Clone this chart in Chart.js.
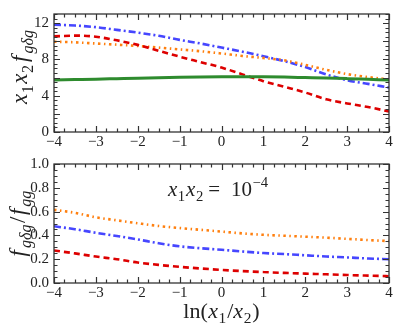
<!DOCTYPE html>
<html><head><meta charset="utf-8">
<script src="https://cdn.jsdelivr.net/npm/chart.js@4"></script>
<style>
html,body{margin:0;padding:0;background:#fff;overflow:hidden;}
#c1{position:absolute;left:0;top:0;}
#c2{position:absolute;left:0;top:150px;}
</style></head><body>
<canvas id="c1" width="399" height="150"></canvas>
<canvas id="c2" width="399" height="179"></canvas>
<script>
// ---- data ----
const xVals = [-4,-3.5,-3,-2.5,-2,-1.5,-1,-0.5,0,0.5,1,1.5,2,2.5,3,3.5,4];
const topBlue   = [11.83,11.73,11.55,11.25,10.95,10.6,10.15,9.75,9.3,8.85,8.35,7.8,7.15,6.35,5.7,5.3,4.9];
const topOrange = [9.95,9.88,9.75,9.62,9.48,9.3,9.1,8.9,8.65,8.38,8.15,7.9,7.4,6.85,6.38,6.05,5.78];
const topRed    = [10.53,10.62,10.5,10.1,9.6,8.95,8.3,7.7,7.1,6.35,5.6,4.98,4.35,3.6,3.15,2.75,2.26];
const topGreen  = [5.74,5.78,5.82,5.87,5.92,5.98,6.03,6.06,6.08,6.09,6.08,6.05,6.0,5.95,5.88,5.8,5.72];
const botOrange = [0.615,0.59,0.552,0.527,0.502,0.479,0.462,0.447,0.432,0.417,0.405,0.397,0.389,0.381,0.371,0.361,0.352];
const botBlue   = [0.477,0.452,0.422,0.395,0.366,0.334,0.308,0.292,0.279,0.265,0.252,0.243,0.233,0.223,0.215,0.206,0.2];
const botRed    = [0.273,0.249,0.222,0.2,0.172,0.152,0.136,0.122,0.11,0.1,0.092,0.085,0.079,0.073,0.067,0.062,0.057];
const xTicks = [-4,-3,-2,-1,0,1,2,3,4];
const topYTicks = [0,2,4,6,8,10,12];
const botYTicks = [0,0.2,0.4,0.6,0.8,1.0];

const FAM = '"Liberation Serif", "Times New Roman", serif';
const AXC = '#333333';
const TXT = '#222222';

const pts = arr => arr.map((v,i)=>({x:xVals[i], y:v}));

function layoutMath(ctx, segs, size){
  let w=0; const items=[];
  for(const s of segs){
    const fs = (s.sub||s.sup) ? size*0.7 : size;
    const font = (s.it?'italic ':'') + fs + 'px ' + FAM;
    ctx.font = font;
    const tw = ctx.measureText(s.t).width;
    const dy = s.sub ? size*0.24 : (s.sup ? -size*0.42 : 0);
    w += (s.pre||0);
    items.push({t:s.t, font, x:w, dy});
    w += tw + (s.post||0);
  }
  return {items, w};
}
function drawMath(ctx, segs, size, x, y, align, rot){
  ctx.save();
  ctx.translate(x,y);
  if(rot) ctx.rotate(rot);
  const {items,w} = layoutMath(ctx, segs, size);
  const x0 = align==='center' ? -w/2 : (align==='right' ? -w : 0);
  ctx.fillStyle = TXT; ctx.textBaseline='alphabetic'; ctx.textAlign='left';
  for(const it of items){ ctx.font = it.font; ctx.fillText(it.t, x0+it.x, it.dy); }
  ctx.restore();
}

function framePlugin(yMinorStep, yMinorCount, yMajorEvery){
  return {
    id:'frame',
    afterDatasetsDraw(chart){
      const {ctx, chartArea:a, scales:{x,y}} = chart;
      ctx.save();
      ctx.strokeStyle = AXC; ctx.lineWidth = 1.2;
      ctx.beginPath();
      for(let i=0;i<=32;i++){
        const v = -4 + i/4;
        const px = Math.round(x.getPixelForValue(v))+0.5;
        const L = (i%4===0) ? 6 : 3.5;
        ctx.moveTo(px, a.bottom); ctx.lineTo(px, a.bottom-L);
        ctx.moveTo(px, a.top); ctx.lineTo(px, a.top+L);
      }
      for(let i=0;i<=yMinorCount;i++){
        const v = i*yMinorStep;
        const py = Math.round(y.getPixelForValue(v))+0.5;
        const L = (i%yMajorEvery===0) ? 6 : 3.5;
        ctx.moveTo(a.left, py); ctx.lineTo(a.left+L, py);
        ctx.moveTo(a.right, py); ctx.lineTo(a.right-L, py);
      }
      ctx.stroke();
      ctx.lineWidth = 1.3;
      ctx.strokeRect(a.left, a.top, a.right-a.left, a.bottom-a.top);
      ctx.restore();
    }
  };
}

const fmtX = v => (v<0 ? '\u2212'+Math.abs(v) : String(v));

function xScale(pad){
  return {
    type:'linear', min:-4, max:4,
    grid:{display:false, drawTicks:false}, border:{display:false},
    afterBuildTicks: s => { s.ticks = xTicks.map(v=>({value:v})); },
    ticks:{padding:pad, autoSkip:false, maxRotation:0, color:TXT, font:{family:FAM, size:15}, callback:v=>fmtX(v)}
  };
}

function dsBlue(d){ return {data:pts(d), borderColor:'#4646ff', borderWidth:2.6, borderDash:[7,3,2,3]}; }
function dsRed(d){ return {data:pts(d), borderColor:'#dd0000', borderWidth:2.6, borderDash:[6,4]}; }
function dsOrange(d){ return {data:pts(d), borderColor:'#ff7f0e', borderWidth:2.6, borderDash:[2.5,3.5,1.5,3.5]}; }
function dsGreen(d){ return {data:pts(d), borderColor:'#2e8b2e', borderWidth:3}; }

const common = {
  responsive:false, animation:false, devicePixelRatio:1,
  plugins:{legend:{display:false}, tooltip:{enabled:false}},
  elements:{point:{radius:0}, line:{tension:0.4, cubicInterpolationMode:'monotone', fill:false}}
};

// ---- top chart ----
const topLabel = {
  id:'topLabel',
  afterDraw(chart){
    const {ctx, chartArea:a} = chart;
    const segs = [
      {t:'x',it:true,post:0.5},{t:'1',sub:true,post:1.5},
      {t:'x',it:true,post:0.5},{t:'2',sub:true,post:3},
      {t:'f',it:true,post:2},{t:'g\u03B4g',it:true,sub:true}
    ];
    drawMath(ctx, segs, 23, 27, 67, 'center', -Math.PI/2);
  }
};
const xTop = xScale(1);
xTop.afterFit = s => { s.height = 18; };
new Chart(document.getElementById('c1'), {
  type:'line',
  data:{datasets:[dsGreen(topGreen), dsRed(topRed), dsOrange(topOrange), dsBlue(topBlue)]},
  options:Object.assign({}, common, {
    layout:{padding:{left:0,right:10,top:5,bottom:0}},
    scales:{
      x: xTop,
      y:{
        min:0, max:13,
        grid:{display:false, drawTicks:false}, border:{display:false},
        afterBuildTicks: s => { s.ticks = topYTicks.map(v=>({value:v})); },
        ticks:{padding:5, color:TXT, font:{family:FAM, size:15}, callback:v=>String(v)},
        afterFit: s => { s.width = 54; }
      }
    }
  }),
  plugins:[framePlugin(0.5, 26, 4), topLabel]
});

// ---- bottom chart ----
const botLabel = {
  id:'botLabel',
  afterDraw(chart){
    const {ctx, chartArea:a, scales:{x,y}} = chart;
    const ySegs = [
      {t:'f',it:true,post:2},{t:'g\u03B4g',it:true,sub:true,post:1.5},
      {t:'/',post:1.5},
      {t:'f',it:true,post:2},{t:'gg',it:true,sub:true}
    ];
    drawMath(ctx, ySegs, 23, 25, (a.top+a.bottom)/2, 'center', -Math.PI/2);
    const xSegs = [
      {t:'ln(',post:0.5},{t:'x',it:true,post:0.5},{t:'1',sub:true,post:1},{t:'/'},
      {t:'x',it:true,post:0.5},{t:'2',sub:true,post:1},{t:')'}
    ];
    drawMath(ctx, xSegs, 22, (a.left+a.right)/2, a.bottom+35, 'center', 0);
    const aSegs = [
      {t:'x',it:true,post:0.5},{t:'1',sub:true,post:1},
      {t:'x',it:true,post:0.5},{t:'2',sub:true,post:1},
      {t:'=',pre:4},{t:'10',pre:11},{t:'\u22124',sup:true,pre:0.5}
    ];
    drawMath(ctx, aSegs, 21, x.getPixelForValue(-1.28), y.getPixelForValue(0.73), 'left', 0);
  }
};
const xBot = xScale(1);
xBot.afterFit = s => { s.height = 46; };
new Chart(document.getElementById('c2'), {
  type:'line',
  data:{datasets:[dsRed(botRed), dsOrange(botOrange), dsBlue(botBlue)]},
  options:Object.assign({}, common, {
    layout:{padding:{left:0,right:10,top:6,bottom:0}},
    scales:{
      x: xBot,
      y:{
        min:0, max:1,
        grid:{display:false, drawTicks:false}, border:{display:false},
        afterBuildTicks: s => { s.ticks = botYTicks.map(v=>({value:v})); },
        ticks:{padding:5, color:TXT, font:{family:FAM, size:15}, callback:v=>Number(v).toFixed(1)},
        afterFit: s => { s.width = 54; }
      }
    }
  }),
  plugins:[framePlugin(0.05, 20, 4), botLabel]
});
</script>
</body></html>
